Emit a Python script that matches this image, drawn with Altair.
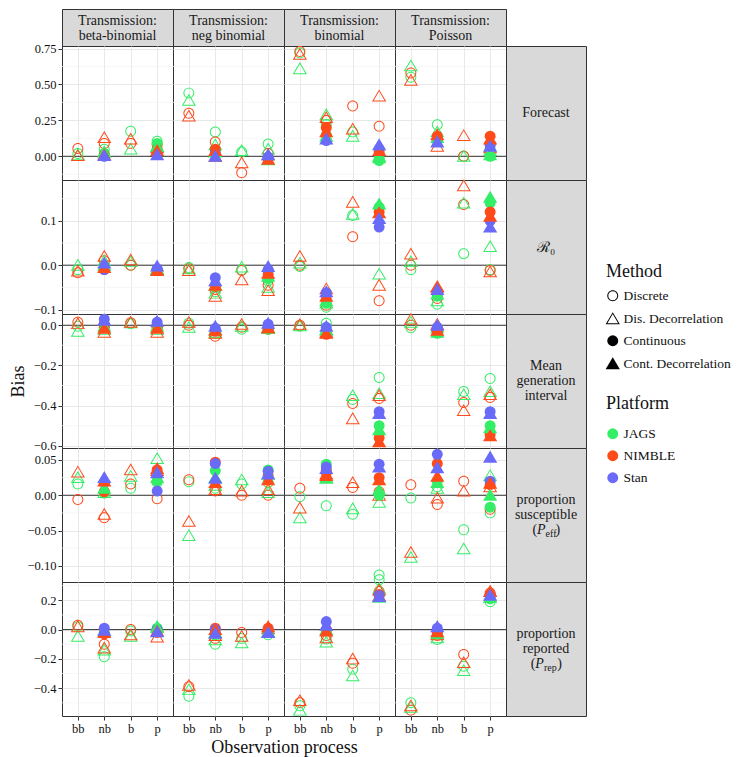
import altair as alt
import pandas as pd

# ---------------- categories ----------------
TRANSMISSIONS = ["beta-binomial", "neg binomial", "binomial", "Poisson"]
TRANS_LABELS = ["Transmission:\nbeta-binomial", "Transmission:\nneg binomial",
                "Transmission:\nbinomial", "Transmission:\nPoisson"]
OBS = ["bb", "nb", "b", "p"]
METHODS = ["Discrete", "Dis. Decorrelation", "Continuous", "Cont. Decorrelation"]
HOLLOW_METHODS = ["Discrete", "Dis. Decorrelation"]
PLATFORMS = ["JAGS", "NIMBLE", "Stan"]
PARAMS = ["Forecast", "R0", "Mean generation interval", "proportion susceptible", "proportion reported"]

# order of values in each list: bb / b = 4 values, nb / p = 10 values
HOLLOW_KEYS = [("Discrete", "JAGS"), ("Discrete", "NIMBLE"),
               ("Dis. Decorrelation", "JAGS"), ("Dis. Decorrelation", "NIMBLE")]
FILLED_KEYS = [("Continuous", "JAGS"), ("Continuous", "NIMBLE"), ("Continuous", "Stan"),
               ("Cont. Decorrelation", "JAGS"), ("Cont. Decorrelation", "NIMBLE"), ("Cont. Decorrelation", "Stan")]

# ---------------- values (per transmission: [bb, nb, b, p]) ----------------
FORECAST = [
    [[0.02, 0.055, 0.01, 0.005],
     [0.05, 0.09, 0.03, 0.13, 0.02, 0.01, 0.0, 0.03, 0.01, 0.005],
     [0.175, 0.09, 0.05, 0.12],
     [0.105, 0.08, 0.07, 0.06, 0.09, 0.05, 0.02, 0.07, 0.04, 0.01]],
    [[0.44, 0.30, 0.39, 0.28],
     [0.17, 0.10, 0.08, 0.0, 0.04, 0.05, 0.02, 0.03, 0.04, 0.0],
     [0.03, -0.115, 0.04, -0.045],
     [0.085, 0.02, 0.05, 0.01, -0.02, -0.015, -0.005, -0.025, -0.02, 0.01]],
    [[0.72, 0.73, 0.61, 0.71],
     [0.22, 0.25, 0.29, 0.27, 0.15, 0.20, 0.11, 0.14, 0.17, 0.12],
     [0.17, 0.35, 0.14, 0.19],
     [-0.01, 0.21, 0.0, 0.42, -0.03, 0.03, 0.05, -0.01, 0.04, 0.08]],
    [[0.55, 0.58, 0.63, 0.53],
     [0.22, 0.12, 0.17, 0.07, 0.12, 0.14, 0.11, 0.13, 0.15, 0.10],
     [0.0, 0.0, 0.0, 0.145],
     [0.05, 0.08, 0.04, 0.06, 0.0, 0.14, 0.08, 0.01, 0.12, 0.07]],
]
R0 = [
    [[-0.01, -0.017, 0.0, -0.013],
     [0.0, 0.01, 0.01, 0.02, -0.005, -0.01, -0.01, 0.0, -0.005, 0.005],
     [0.0, 0.0, 0.008, 0.012],
     [-0.01, -0.01, -0.008, -0.01, -0.01, -0.012, -0.008, -0.01, -0.012, -0.002]],
    [[-0.005, -0.008, -0.008, -0.012],
     [-0.06, -0.055, -0.063, -0.07, -0.05, -0.048, -0.028, -0.045, -0.045, -0.035],
     [-0.01, -0.012, -0.004, -0.033],
     [-0.035, -0.045, -0.05, -0.057, -0.03, -0.02, -0.01, -0.025, -0.018, -0.003]],
    [[-0.003, 0.0, 0.005, 0.02],
     [-0.095, -0.09, -0.085, -0.053, -0.085, -0.078, -0.062, -0.08, -0.07, -0.06],
     [0.112, 0.064, 0.115, 0.142],
     [0.13, -0.08, -0.02, -0.045, 0.13, 0.12, 0.086, 0.138, 0.118, 0.105]],
    [[-0.01, 0.0, 0.008, 0.025],
     [-0.088, -0.075, -0.08, -0.048, -0.07, -0.06, -0.065, -0.065, -0.05, -0.055],
     [0.026, 0.137, 0.14, 0.179],
     [-0.01, -0.012, 0.042, -0.015, 0.14, 0.12, 0.10, 0.153, 0.11, 0.086]],
]
MGI = [
    [[-0.005, 0.015, -0.03, 0.008],
     [0.0, 0.005, -0.02, -0.035, 0.0, -0.01, 0.03, -0.005, -0.015, 0.025],
     [0.008, 0.012, 0.012, 0.015],
     [-0.01, -0.01, -0.02, -0.035, 0.0, -0.012, 0.015, -0.005, -0.015, 0.02]],
    [[0.01, 0.0, -0.01, 0.015],
     [-0.04, -0.055, -0.035, -0.04, -0.025, -0.03, -0.015, -0.02, -0.025, -0.005],
     [-0.02, -0.01, -0.005, 0.005],
     [-0.015, -0.02, -0.01, -0.015, -0.02, -0.015, 0.005, -0.015, -0.012, 0.01]],
    [[-0.005, 0.0, -0.003, 0.003],
     [0.01, -0.03, -0.02, -0.035, -0.03, -0.045, -0.01, -0.025, -0.04, -0.005],
     [-0.37, -0.39, -0.35, -0.465],
     [-0.26, -0.365, -0.34, -0.35, -0.5, -0.56, -0.43, -0.52, -0.58, -0.44]],
    [[-0.013, 0.0, 0.015, 0.03],
     [-0.02, -0.03, -0.01, 0.005, -0.04, -0.03, -0.01, -0.035, -0.025, 0.0],
     [-0.33, -0.385, -0.345, -0.425],
     [-0.265, -0.36, -0.33, -0.345, -0.5, -0.545, -0.43, -0.51, -0.55, -0.44]],
]
PEFF = [
    [[0.016, -0.006, 0.025, 0.033],
     [0.005, -0.032, 0.004, -0.027, 0.003, 0.005, 0.018, 0.01, 0.02, 0.025],
     [0.01, 0.016, 0.027, 0.036],
     [0.018, -0.005, 0.052, 0.035, 0.02, 0.036, 0.006, 0.025, 0.038, 0.032]],
    [[0.019, 0.022, -0.057, -0.037],
     [0.01, 0.006, 0.014, 0.008, 0.035, 0.047, 0.045, 0.025, 0.018, 0.024],
     [0.016, 0.0, 0.022, 0.006],
     [0.018, 0.0, 0.004, 0.008, 0.036, 0.028, 0.034, 0.03, 0.022, 0.03]],
    [[-0.002, 0.01, -0.032, -0.018],
     [-0.015, 0.035, 0.025, 0.03, 0.044, 0.032, 0.04, 0.024, 0.028, 0.038],
     [-0.027, 0.011, -0.019, 0.018],
     [-0.113, 0.005, -0.01, 0.0, 0.0, 0.025, 0.044, 0.008, 0.022, 0.04]],
    [[-0.004, 0.015, -0.088, -0.081],
     [0.012, -0.013, 0.01, -0.004, 0.02, 0.045, 0.058, 0.018, 0.027, 0.039],
     [-0.049, 0.02, -0.076, 0.006],
     [-0.025, -0.02, 0.028, 0.012, -0.017, 0.015, 0.02, 0.0, 0.017, 0.054]],
]
PREP = [
    [[0.02, 0.03, -0.045, 0.02],
     [-0.185, -0.1, -0.14, -0.125, -0.02, -0.03, 0.01, -0.01, -0.02, -0.005],
     [-0.01, 0.0, -0.045, -0.035],
     [0.0, -0.02, 0.02, -0.05, 0.01, -0.005, 0.0, 0.015, -0.01, -0.015]],
    [[-0.455, -0.39, -0.41, -0.38],
     [-0.1, -0.06, -0.07, -0.04, -0.03, 0.01, 0.0, -0.02, 0.0, -0.025],
     [-0.06, -0.02, -0.09, -0.045],
     [-0.035, -0.01, -0.02, 0.005, -0.02, 0.01, -0.005, -0.015, 0.02, -0.02]],
    [[-0.52, -0.5, -0.55, -0.485],
     [-0.065, -0.04, -0.085, -0.055, -0.01, 0.0, 0.055, 0.0, -0.01, 0.03],
     [-0.27, -0.23, -0.315, -0.2],
     [0.34, 0.26, 0.28, 0.27, 0.23, 0.24, 0.235, 0.22, 0.23, 0.225]],
    [[-0.5, -0.55, -0.53, -0.52],
     [-0.068, -0.04, -0.055, -0.035, -0.03, -0.02, 0.01, -0.025, -0.015, 0.02],
     [-0.25, -0.17, -0.28, -0.225],
     [0.19, 0.25, 0.22, 0.26, 0.21, 0.24, 0.23, 0.22, 0.26, 0.235]],
]
ALL_VALUES = [FORECAST, R0, MGI, PEFF, PREP]

# ---------------- axes per row ----------------
DOMAINS = [[-0.165, 0.768], [-0.110, 0.192], [-0.611, 0.056], [-0.123, 0.067], [-0.59, 0.325]]
MAJOR = [[0.0, 0.25, 0.5, 0.75], [-0.1, 0.0, 0.1], [-0.6, -0.4, -0.2, 0.0],
         [-0.1, -0.05, 0.0, 0.05], [-0.4, -0.2, 0.0, 0.2]]
MINOR = [[-0.125, 0.125, 0.375, 0.625], [-0.05, 0.05, 0.15], [-0.5, -0.3, -0.1],
         [-0.075, -0.025, 0.025], [-0.5, -0.3, -0.1, 0.1, 0.3]]
FMTS = [".2f", ".1f", ".1f", ".2f", ".1f"]

ROW_MAIN = ["Forecast", "\u211B\u2080", "Mean\ngeneration\ninterval", "proportion\nsusceptible", "proportion\nreported"]
ROW_SUB = [None, None, None, "eff", "rep"]

# ---------------- style ----------------
COLORS = ["#33EE66", "#FF4A1A", "#6A6AF8"]
FONT = "Liberation Serif"
PW, PH, SH, RW = 111, 134, 37, 80
STRIP_FILL = "#d9d9d9"
BORDER = "#333333"
TXT = "#1a1a1a"
RING = ("M1,0A1,1,0,1,1,-1,0A1,1,0,1,1,1,0Z"
        "M0.82,0A0.82,0.82,0,1,0,-0.82,0A0.82,0.82,0,1,0,0.82,0Z")
TRI = "M0,-1.2L1.3,1L-1.3,1Z"
TRI_RING = "M0,-1.2L1.3,1L-1.3,1ZM0,-0.846L-0.984,0.82L0.984,0.82Z"
PT_SIZE = 120

rows = []
for p, vals_by_t in zip(PARAMS, ALL_VALUES):
    for t, per_obs in zip(TRANSMISSIONS, vals_by_t):
        for o, vals in zip(OBS, per_obs):
            keys = HOLLOW_KEYS + (FILLED_KEYS if len(vals) > 4 else [])
            for (m, pl), v in zip(keys, vals):
                rows.append(dict(param=p, trans=t, obs=o, method=m, platform=pl,
                                 bias=v, hollow=m in HOLLOW_METHODS))
df = pd.DataFrame(rows)
# hollow symbols first, filled symbols drawn on top
df = pd.concat([df[df.hollow], df[~df.hollow]], ignore_index=True)

LEG_X = 544
LEG_Y = 254

shape_enc = alt.Shape("method:N",
                      scale=alt.Scale(domain=METHODS, range=[RING, TRI_RING, "circle", TRI]),
                      legend=alt.Legend(title="Method", orient="none", legendX=LEG_X, legendY=LEG_Y,
                                        symbolSize=PT_SIZE, rowPadding=4, titlePadding=8))
color_enc = alt.Color("platform:N", scale=alt.Scale(domain=PLATFORMS, range=COLORS),
                      legend=alt.Legend(title="Platform", orient="none", legendX=LEG_X, legendY=LEG_Y + 132,
                                        symbolType="circle", symbolSize=PT_SIZE, rowPadding=7, titlePadding=14))


def panel(i, j):
    p, t = PARAMS[i], TRANSMISSIONS[j]
    sub = df[(df.param == p) & (df.trans == t)]
    first = j == 0
    bottom = i == 4
    ykw = dict(values=MAJOR[i], format=FMTS[i], labels=first, ticks=first, domain=False,
               grid=True, gridColor="#e8e8e8", gridWidth=1, title="")
    if first and i == 2:
        ykw.update(title="Bias", titleFontSize=18, titlePadding=6)
    xkw = dict(labels=bottom, ticks=bottom, domain=False, grid=True, gridColor="#e8e8e8",
               gridWidth=1, labelAngle=0, title="")
    if bottom and j == 1:
        xkw.update(title="Observation process", titleX=PW, titleFontSize=18, titlePadding=4)
    y = alt.Y("bias:Q", scale=alt.Scale(domain=DOMAINS[i], nice=False, zero=False), axis=alt.Axis(**ykw))
    x = alt.X("obs:N", scale=alt.Scale(domain=OBS, padding=0.6), axis=alt.Axis(**xkw))

    minor = alt.Chart(pd.DataFrame({"bias": MINOR[i]})).mark_rule(
        color="#f2f2f2", strokeWidth=0.7).encode(y=y)
    zero = alt.Chart(pd.DataFrame({"bias": [0.0]})).mark_rule(
        color="#333333", strokeWidth=1).encode(y=y)
    pts = alt.Chart(sub).mark_point(filled=True, size=PT_SIZE, opacity=1).encode(
        x=x, y=y, shape=shape_enc, color=color_enc)
    return alt.layer(minor, zero, pts).properties(
        width=PW, height=PH, view=alt.ViewBackground(stroke=BORDER, strokeWidth=1))


one = pd.DataFrame({"k": [0]})
LH = 15


def header(j):
    return alt.Chart(one).mark_text(
        text=TRANS_LABELS[j], lineBreak="\n", font=FONT, fontSize=14, lineHeight=LH,
        align="center", baseline="middle", color=TXT).encode(
        x=alt.value(PW / 2), y=alt.value(SH / 2 - LH / 2 + 1)).properties(
        width=PW, height=SH, view=alt.ViewBackground(fill=STRIP_FILL, stroke=BORDER))


def blank():
    return alt.Chart(one).mark_text(text=" ", baseline="middle").encode(
        x=alt.value(RW / 2), y=alt.value(SH / 2)).properties(
        width=RW, height=SH, view=alt.ViewBackground(strokeOpacity=0))


SUB_PIECES = {
    "eff": [("(", 26.4, 0, "normal", 14), ("P", 30.9, 0, "italic", 14), ("eff", 39.6, 4, "normal", 10), (")", 49.6, 0, "normal", 14)],
    "rep": [("(", 24.8, 0, "normal", 14), ("P", 29.3, 0, "italic", 14), ("rep", 38.0, 4, "normal", 10), (")", 51.3, 0, "normal", 14)],
}


def row_strip(i):
    bg = alt.ViewBackground(fill=STRIP_FILL, stroke=BORDER)
    c = PH / 2
    layers = []
    if ROW_SUB[i] is None:
        n = ROW_MAIN[i].count("\n") + 1
        fs = 15 if i == 1 else 14
        layers.append(alt.Chart(one).mark_text(
            text=ROW_MAIN[i], lineBreak="\n", font=FONT, fontSize=fs, lineHeight=LH,
            align="center", baseline="middle", color=TXT).encode(
            x=alt.value(RW / 2), y=alt.value(c - (n - 1) * LH / 2)))
    else:
        layers.append(alt.Chart(one).mark_text(
            text=ROW_MAIN[i], lineBreak="\n", font=FONT, fontSize=14, lineHeight=LH,
            align="center", baseline="middle", color=TXT).encode(
            x=alt.value(RW / 2), y=alt.value(c - LH)))
        for txt, px, dy, style, fs in SUB_PIECES[ROW_SUB[i]]:
            layers.append(alt.Chart(one).mark_text(
                text=txt, font=FONT, fontSize=fs, fontStyle=style, align="left", baseline="middle",
                color=TXT, dy=dy).encode(x=alt.value(px), y=alt.value(c + LH)))
    return alt.layer(*layers).properties(width=RW, height=PH, view=bg)


cells = [header(j) for j in range(4)] + [blank()]
for i in range(5):
    cells += [panel(i, j) for j in range(4)] + [row_strip(i)]

chart = alt.concat(*cells, columns=5, spacing=0, align="each", bounds="flush").resolve_scale(
    x="independent", y="independent", color="shared", shape="shared"
).properties(
    padding={"left": 0, "top": 0, "right": 5, "bottom": 2}
).configure_axis(
    labelFont=FONT, titleFont=FONT, labelFontSize=12.5, labelColor="#111111",
    titleColor="#111111", titleFontWeight="normal", tickColor="#333333", tickSize=4, labelPadding=2
).configure_legend(
    titleFont=FONT, labelFont=FONT, titleFontSize=18, labelFontSize=13.5,
    titleFontWeight="normal", titleColor="#111111", labelColor="#111111"
)

chart.save("out.html", embed_options={"renderer": "svg", "actions": False})
